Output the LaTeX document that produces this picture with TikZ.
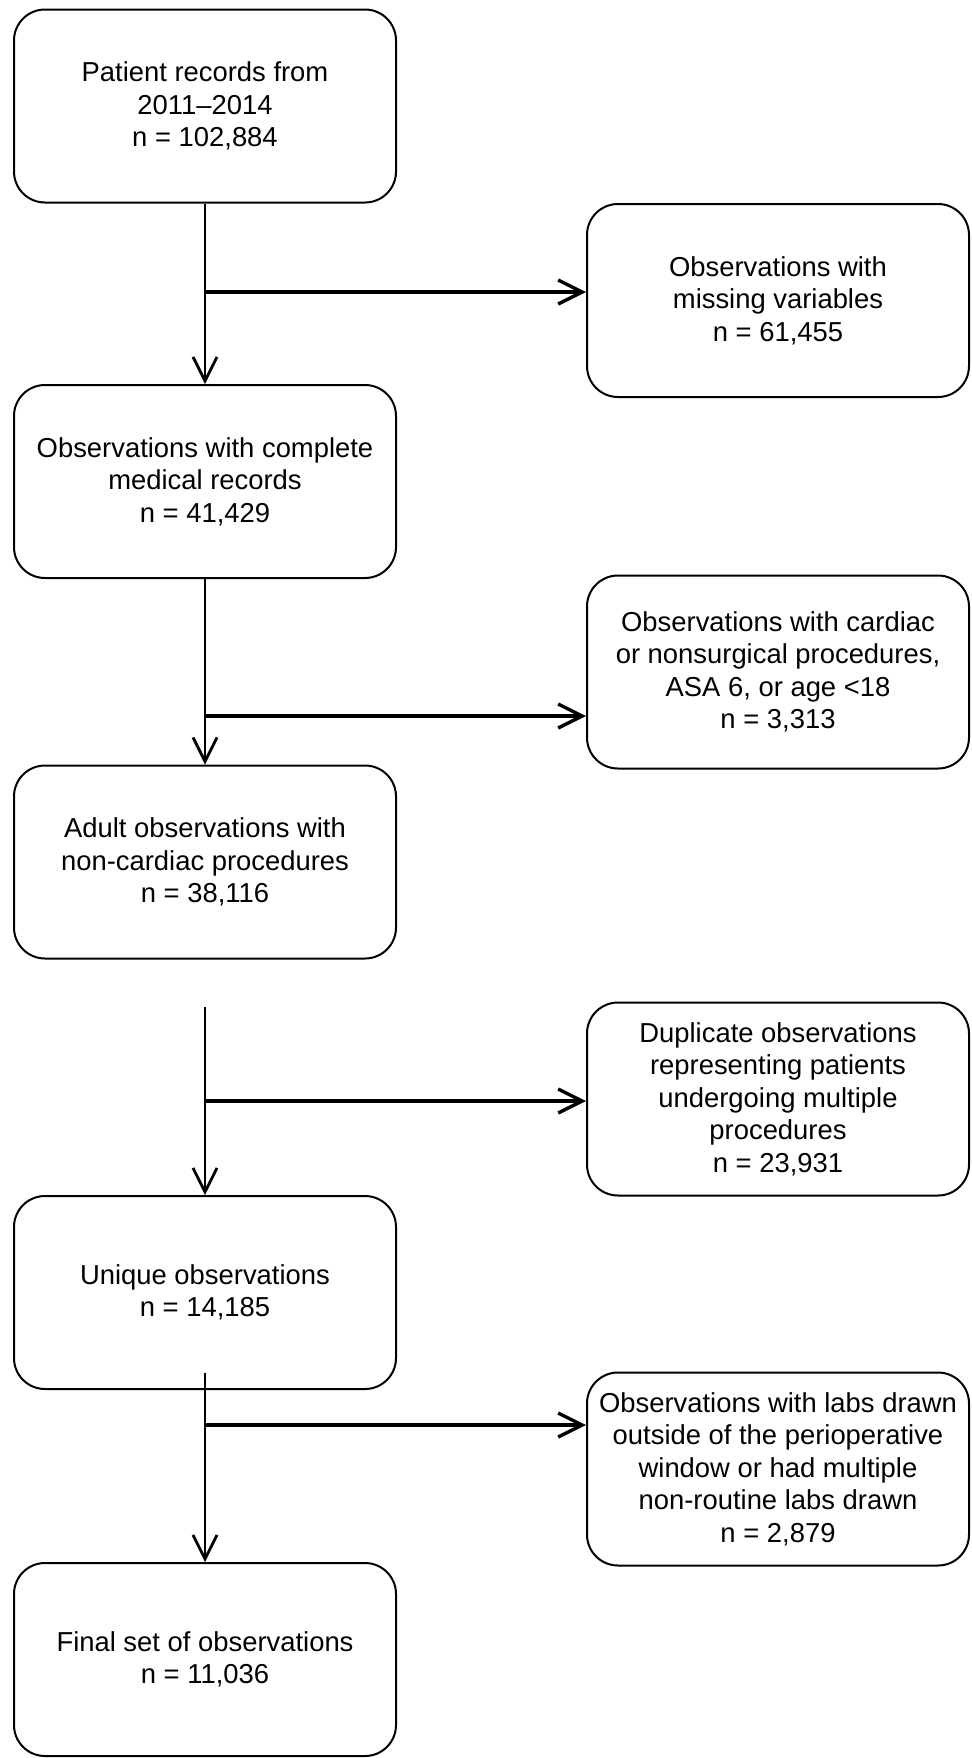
\documentclass[tikz,border=0pt]{standalone}
\usepackage{fontspec}
\setmainfont{Liberation Sans}
\usetikzlibrary{arrows.meta}

\begin{document}
\begin{tikzpicture}[x=0.5pt, y=-0.5pt,
  box/.style  = {draw, line width=1pt, rounded corners=15.5pt,
                 minimum width=191pt, minimum height=96.5pt,
                 inner sep=0pt, align=center,
                 font=\fontsize{13.7}{16.25}\selectfont},
  link/.style = {line width=1.4pt, -{Straight Barb[length=12pt, width=12pt]}},
  side/.style = {link, line width=1.7pt}]
  \useasboundingbox (0,0) rectangle (971,1758);

  % main column
  \node[box] (rec)   at (205,106)    {Patient records from\\2011--2014\\n = 102,884};
  \node[box] (comp)  at (205,481.5)  {Observations with complete\\medical records\\n = 41,429};
  \node[box] (adult) at (205,862)    {Adult observations with\\non-cardiac procedures\\n = 38,116};
  \node[box] (uniq)  at (205,1292.5) {Unique observations\\n = 14,185};
  \node[box] (final) at (205,1659.5) {Final set of observations\\n = 11,036};

  % exclusions
  \node[box] (miss)  at (778,300.5)  {Observations with\\missing variables\\n = 61,455};
  \node[box] (card)  at (778,672)    {Observations with cardiac\\or nonsurgical procedures,\\ASA 6, or age <18\\n = 3,313};
  \node[box] (dup)   at (778,1099)   {Duplicate observations\\representing patients\\undergoing multiple\\procedures\\n = 23,931};
  \node[box] (labs)  at (778,1469)   {Observations with labs drawn\\outside of the perioperative\\window or had multiple\\non-routine labs drawn\\n = 2,879};

  \coordinate (s3) at (205,1006.7);
  \coordinate (s4) at (205,1372.7);

  \draw[link] (rec) -- (comp);
  \draw[link] (comp) -- (adult);
  \draw[link] (s3) -- (uniq);
  \draw[link] (s4) -- (final);

  \foreach \y/\r [count=\i] in {292/miss, 716/card, 1101/dup, 1425/labs}
  {
    \coordinate (j\i) at (205,\y);
    \draw[side] (j\i) -- (j\i -| \r.west);
  }
\end{tikzpicture}
\end{document}
